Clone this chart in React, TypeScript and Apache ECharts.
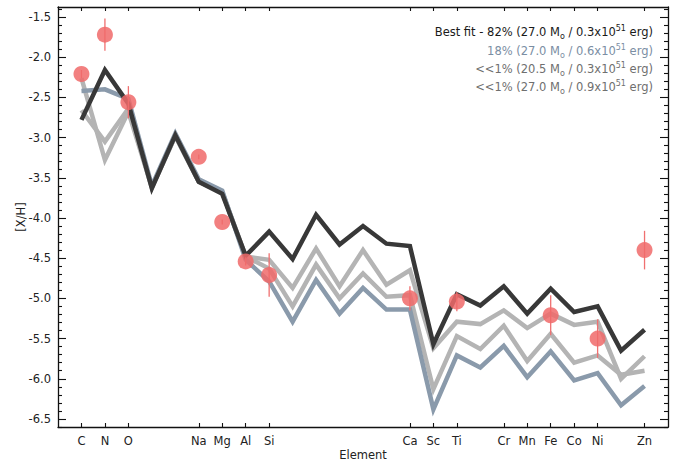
import React, { useEffect, useRef } from "react";
import * as echarts from "echarts";

// Atomic numbers along the x axis (C .. Zn)
const atomicNumbers = [6, 7, 8, 9, 10, 11, 12, 13, 14, 15, 16, 17, 18, 19, 20, 21, 22, 23, 24, 25, 26, 27, 28, 29, 30];

// Labelled ticks
const tickZ = [6, 7, 8, 11, 12, 13, 14, 20, 21, 22, 24, 25, 26, 27, 28, 30];
const tickSymbols = ["C", "N", "O", "Na", "Mg", "Al", "Si", "Ca", "Sc", "Ti", "Cr", "Mn", "Fe", "Co", "Ni", "Zn"];

// Model yields [X/H]
const bestFit = [-2.78, -2.16, -2.58, -3.63, -2.97, -3.55, -3.70, -4.47, -4.17, -4.51, -3.96, -4.33, -4.10, -4.32, -4.35, -5.57, -4.95, -5.09, -4.85, -5.19, -4.88, -5.17, -5.10, -5.65, -5.39];
const model18 = [-2.42, -2.40, -2.52, -3.60, -2.95, -3.52, -3.66, -4.52, -4.79, -5.29, -4.77, -5.19, -4.87, -5.14, -5.14, -6.38, -5.71, -5.86, -5.59, -5.98, -5.66, -6.02, -5.93, -6.33, -6.09];
const model205 = [-2.26, -3.28, -2.68, -3.62, -2.98, -3.55, -3.68, -4.48, -4.52, -4.87, -4.38, -4.85, -4.40, -4.83, -4.65, -5.62, -5.29, -5.32, -5.15, -5.37, -5.19, -5.33, -5.29, -6.00, -5.72];
const model09 = [-2.66, -3.05, -2.64, -3.62, -2.98, -3.55, -3.68, -4.48, -4.63, -5.10, -4.58, -5.00, -4.69, -4.98, -4.96, -6.13, -5.47, -5.63, -5.34, -5.78, -5.44, -5.80, -5.71, -5.95, -5.90];

// Observed abundances
const obsZ = [6, 7, 8, 11, 12, 13, 14, 20, 22, 26, 28, 30];
const obsValue = [-2.21, -1.72, -2.56, -3.24, -4.05, -4.54, -4.71, -5.00, -5.04, -5.21, -5.50, -4.40];
const obsError = [0.05, 0.2, 0.2, 0.03, 0.03, 0.05, 0.27, 0.15, 0.12, 0.25, 0.24, 0.24];

// Y ticks
const yMajor = [-6.5, -6.0, -5.5, -5.0, -4.5, -4.0, -3.5, -3.0, -2.5, -2.0, -1.5];
const yMinor = [-6.6, -6.4, -6.3, -6.2, -6.1, -5.9, -5.8, -5.7, -5.6, -5.4, -5.3, -5.2, -5.1, -4.9, -4.8, -4.7, -4.6, -4.4, -4.3, -4.2, -4.1, -3.9, -3.8, -3.7, -3.6, -3.4, -3.3, -3.2, -3.1, -2.9, -2.8, -2.7, -2.6, -2.4, -2.3, -2.2, -2.1, -1.9, -1.8, -1.7, -1.6, -1.4];

const legendRows = [
  { pct: "Best fit - 82% (27.0 M", energy: " / 0.3x10", color: "#1a1a1a" },
  { pct: "18% (27.0 M", energy: " / 0.6x10", color: "#7b8ea3" },
  { pct: "<<1% (20.5 M", energy: " / 0.3x10", color: "#6f6f6f" },
  { pct: "<<1% (27.0 M", energy: " / 0.9x10", color: "#6f6f6f" },
];

const FONT = "DejaVu Sans, Verdana, sans-serif";
const FS = 11.5;

export default function App() {
  const ref = useRef<HTMLDivElement>(null);
  useEffect(() => {
    if (!ref.current) return;
    const chart = echarts.init(ref.current, undefined, { renderer: "svg" });
    const zip = (ys: number[]) => atomicNumbers.map((z, i) => [z, ys[i]]);
    const lineSeries = (name: string, ys: number[], color: string) => ({
      name,
      type: "line",
      data: zip(ys),
      showSymbol: false,
      symbol: "none",
      lineStyle: { color, width: 4.5, join: "miter", cap: "butt" },
      xAxisIndex: 0,
      yAxisIndex: 0,
      z: 2,
    });
    const axisLine = { show: true, lineStyle: { color: "#111", width: 1.3 } };
    const tickStyle = { color: "#111", width: 1.1 };
    const symbolFor = (v: number) => {
      const idx = tickZ.indexOf(Math.round(v));
      return idx >= 0 ? tickSymbols[idx] : "";
    };
    const yCommon = { type: "value", min: -6.6, max: -1.376, splitLine: { show: false } };
    const xCommon = { type: "value", min: 5, max: 31, splitLine: { show: false } };

    const richFor = (color: string) => ({
      a: { fontSize: FS, fontFamily: FONT, fill: color, color, lineHeight: 16 },
      b: { fontSize: 8, fontFamily: FONT, fill: color, color, lineHeight: 9, verticalAlign: "bottom" },
      c: { fontSize: 8, fontFamily: FONT, fill: color, color, lineHeight: 9, verticalAlign: "top" },
    });
    const legendY = [32, 51, 69, 87];

    chart.setOption({
      animation: false,
      backgroundColor: "#ffffff",
      textStyle: { fontFamily: FONT },
      grid: { left: 58, top: 7, width: 610, height: 420, containLabel: false, outerBoundsMode: "none" },
      xAxis: [
        {
          ...xCommon,
          position: "bottom",
          axisLine,
          axisTick: { show: true, inside: true, length: 4, lineStyle: tickStyle, customValues: tickZ },
          axisLabel: { show: true, customValues: tickZ, formatter: symbolFor, fontSize: FS, color: "#222", fontFamily: FONT, margin: 8 },
          name: "Element",
          nameLocation: "middle",
          nameGap: 22,
          nameMoveOverlap: false,
          nameTextStyle: { fontSize: FS, color: "#222", fontFamily: FONT },
        },
        {
          ...xCommon,
          position: "top",
          axisLine,
          axisTick: { show: true, inside: true, length: 4, lineStyle: tickStyle, customValues: tickZ },
          axisLabel: { show: false },
        },
      ],
      yAxis: [
        {
          ...yCommon,
          position: "left",
          axisLine,
          axisTick: { show: true, inside: true, length: 8, lineStyle: tickStyle, customValues: yMajor },
          axisLabel: { show: true, customValues: yMajor, formatter: (v: number) => v.toFixed(1), fontSize: FS, color: "#222", fontFamily: FONT, margin: 7 },
          name: "[X/H]",
          nameLocation: "middle",
          nameGap: 31,
          nameRotate: 90,
          nameMoveOverlap: false,
          nameTextStyle: { fontSize: FS, color: "#222", fontFamily: FONT },
        },
        {
          ...yCommon,
          position: "left",
          axisLine: { show: false },
          axisTick: { show: true, inside: true, length: 4, lineStyle: tickStyle, customValues: yMinor },
          axisLabel: { show: false },
        },
        {
          ...yCommon,
          position: "right",
          axisLine,
          axisTick: { show: true, inside: true, length: 8, lineStyle: tickStyle, customValues: yMajor },
          axisLabel: { show: false },
        },
        {
          ...yCommon,
          position: "right",
          axisLine: { show: false },
          axisTick: { show: true, inside: true, length: 4, lineStyle: tickStyle, customValues: yMinor },
          axisLabel: { show: false },
        },
      ],
      series: [
        lineSeries("<<1% (27.0 / 0.9)", model09, "#b4b4b4"),
        lineSeries("<<1% (20.5 / 0.3)", model205, "#b4b4b4"),
        lineSeries("18% (27.0 / 0.6)", model18, "#8a9aab"),
        lineSeries("Best fit", bestFit, "#383838"),
        {
          type: "custom",
          xAxisIndex: 0,
          yAxisIndex: 0,
          z: 5,
          data: obsZ.map((z, i) => [z, obsValue[i] - obsError[i], obsValue[i] + obsError[i]]),
          renderItem: (params: any, api: any) => {
            const p1 = api.coord([api.value(0), api.value(1)]);
            const p2 = api.coord([api.value(0), api.value(2)]);
            return {
              type: "line",
              shape: { x1: p1[0], y1: p1[1], x2: p2[0], y2: p2[1] },
              style: { stroke: "#f07070", lineWidth: 1.3 },
            };
          },
        },
        {
          type: "scatter",
          xAxisIndex: 0,
          yAxisIndex: 0,
          z: 6,
          symbolSize: 16,
          data: obsZ.map((z, i) => [z, obsValue[i]]),
          itemStyle: { color: "#f06a6a", opacity: 0.85 },
        },
      ],
      graphic: legendRows.map((r, i) => ({
        type: "text",
        x: 653,
        y: legendY[i],
        z: 10,
        style: {
          text: `{a|${r.pct}}{b|o}{a|${r.energy}}{c|51}{a| erg)}`,
          rich: richFor(r.color),
          align: "right",
          verticalAlign: "middle",
          textAlign: "right",
          textVerticalAlign: "middle",
          fill: r.color,
          font: `${FS}px ${FONT}`,
        },
      })),
    });
    return () => chart.dispose();
  }, []);
  return (
    <div
      ref={ref}
      style={{ position: "fixed", left: 0, top: 0, width: 681, height: 464, background: "#fff" }}
    />
  );
}
